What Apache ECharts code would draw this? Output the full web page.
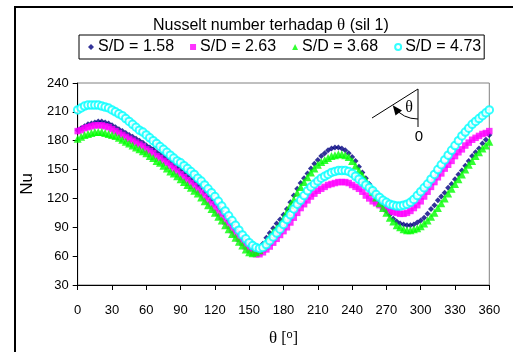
<!DOCTYPE html>
<html><head><meta charset="utf-8">
<script src="https://cdn.jsdelivr.net/npm/echarts@6/dist/echarts.min.js"></script>
<style>html,body{margin:0;padding:0;background:#fff}#c{width:513px;height:352px}</style>
</head><body><div id="c"></div>
<script>
var theta = [0,3,6,9,12,15,18,21,24,27,30,33,36,39,42,45,48,51,54,57,60,63,66,69,72,75,78,81,84,87,90,93,96,99,102,105,108,111,114,117,120,123,126,129,132,135,138,141,144,147,150,153,156,159,162,165,168,171,174,177,180,183,186,189,192,195,198,201,204,207,210,213,216,219,222,225,228,231,234,237,240,243,246,249,252,255,258,261,264,267,270,273,276,279,282,285,288,291,294,297,300,303,306,309,312,315,318,321,324,327,330,333,336,339,342,345,348,351,354,357,360];
var xTicks = [0,30,60,90,120,150,180,210,240,270,300,330,360];
var yTicks = [30,60,90,120,150,180,210,240];
var seriesNames = ['S/D = 1.58','S/D = 2.63','S/D = 3.68','S/D = 4.73'];
var nu158 = [191,193,195,197,198,199,200,200,199,198,
196,194,192,190,188,186,184,182,180,178,
175,173,171,168,166,163,161,158,155,152,
149,146,143,140,137,134,131,127,123,119,
115,111,107,102,97,93,88,84,79,75,
71,67,65,68,73,79,84,89,94,98,
103,109,116,123,130,136,141,146,151,156,
160,164,167,170,172,173,173,172,170,167,
163,159,153,147,141,135,129,123,117,112,
107,103,99,96,94,93,92,92,93,95,
97,100,104,109,113,118,122,126,131,135,
140,145,149,154,159,164,168,172,177,181,
186];
var nu263 = [190,191,193,194,195,196,196,196,195,194,
192,190,188,186,184,182,180,178,176,174,
171,169,167,164,162,159,157,154,151,148,
145,142,139,136,133,129,126,122,118,114,
110,105,101,96,92,87,83,78,74,70,
67,64,62,62,64,67,70,74,78,82,
86,90,95,100,105,110,114,118,122,125,
128,130,132,134,135,136,137,137,137,136,
134,132,130,127,123,120,117,115,113,111,
109,107,106,105,104,104,105,107,110,113,
117,122,127,132,137,142,146,151,155,159,
164,168,171,175,178,181,183,185,187,188,
190];
var nu368 = [182,184,186,187,188,189,189,189,188,187,
186,185,183,181,179,177,175,173,171,169,
167,164,162,159,157,154,151,148,146,143,
140,137,134,131,128,125,121,117,113,109,
105,101,97,92,88,83,79,75,71,67,
64,63,64,66,70,75,80,85,89,93,
99,106,113,119,126,132,137,142,147,151,
155,158,160,162,164,165,166,166,165,163,
159,154,149,144,139,133,127,121,115,110,
105,100,96,92,90,88,87,87,88,89,
91,94,97,101,105,110,115,120,125,130,
135,140,145,150,155,159,164,168,172,175,
179];
var nu473 = [212,214,216,217,217,217,217,216,215,214,
212,210,208,206,203,200,197,194,191,189,
186,183,180,177,174,171,168,165,162,159,
157,154,151,148,145,141,138,134,130,126,
122,117,112,107,102,97,92,87,82,78,
74,71,69,68,69,72,76,80,84,88,
93,98,103,109,114,118,123,128,132,135,
138,141,143,145,147,148,149,149,149,148,
146,143,140,137,134,131,128,124,121,118,
116,114,113,112,112,113,114,116,119,123,
127,131,135,140,145,150,155,160,165,170,
175,180,185,189,193,197,200,203,206,209,
212];

function pairs(v){ return theta.map(function(t,i){ return [t, v[i]]; }); }
var chart = echarts.init(document.getElementById('c'), null, {renderer:'canvas'});
var F = 'Arial, "Liberation Sans", sans-serif';
var SERIF = '"Liberation Serif", "DejaVu Serif", serif';
var cx = 418, cy = 89, r = 30;
function pt(a, rr){ return [cx + rr*Math.cos(a), cy + rr*Math.sin(a)]; }
chart.setOption({
  animation: false,
  backgroundColor: '#fff',
  title: {
    text: 'Nusselt number terhadap {t|θ} (sil 1)',
    left: 148, top: 12,
    textStyle: { fontFamily: F, fontSize: 16, fontWeight: 'normal', color: '#000',
      rich: { t: { fontFamily: SERIF, fontSize: 17, color: '#000' } } }
  },
  legend: {
    left: 79, top: 35,
    padding: [4, 3, 4, 9],
    borderColor: '#000', borderWidth: 1,
    itemWidth: 6, itemHeight: 6, itemGap: 16,
    textStyle: { fontFamily: F, fontSize: 16, color: '#000', padding: [0,0,0,-1] },
    data: seriesNames
  },
  grid: { left: 77.7, right: 23.7, top: 83, bottom: 64.7, show: true, borderColor: '#808080', borderWidth: 1 },
  xAxis: {
    type: 'value', min: xTicks[0], max: xTicks[xTicks.length-1], interval: 30,
    axisLine: { lineStyle: { color: '#000', width: 1 } },
    axisTick: { show: true, inside: false, length: 5, lineStyle: { color: '#000' } },
    splitLine: { show: false },
    axisLabel: { fontFamily: F, fontSize: 13, color: '#000', margin: 19 },
    name: '{t|θ} [{s|o}]', nameLocation: 'middle', nameGap: 44,
    nameTextStyle: { fontFamily: SERIF, fontSize: 16, color: '#000',
      rich: { t: { fontFamily: SERIF, fontSize: 17, color: '#000' },
              s: { fontFamily: F, fontSize: 11, color: '#000', verticalAlign: 'top', padding: [0,0,8,0] } } }
  },
  yAxis: {
    type: 'value', min: yTicks[0], max: yTicks[yTicks.length-1], interval: 30,
    axisLine: { show: true, lineStyle: { color: '#000', width: 1 } },
    axisTick: { show: true, inside: false, length: 5, lineStyle: { color: '#000' } },
    splitLine: { show: false },
    axisLabel: { fontFamily: F, fontSize: 13, color: '#000', margin: 9 },
    name: 'Nu', nameLocation: 'middle', nameGap: 40, nameRotate: 90,
    nameTextStyle: { fontFamily: F, fontSize: 17, color: '#000', padding: [0,0,0,0] }
  },
  series: [
    { name: seriesNames[0], type: 'scatter', data: pairs(nu158), symbol: 'diamond', symbolSize: 6,
      itemStyle: { color: '#000080' } },
    { name: seriesNames[1], type: 'scatter', data: pairs(nu263), symbol: 'rect', symbolSize: 6.5,
      itemStyle: { color: '#FF00FF' } },
    { name: seriesNames[2], type: 'scatter', data: pairs(nu368), symbol: 'triangle', symbolSize: 8,
      itemStyle: { color: '#00FF00' } },
    { name: seriesNames[3], type: 'scatter', data: pairs(nu473), symbol: 'emptyCircle', symbolSize: 7.5,
      itemStyle: { color: '#00FFFF', borderColor: '#00FFFF', borderWidth: 1.3 } }
  ],
  graphic: [
    { type: 'rect', shape: { x: 15, y: 7, width: 600, height: 400 }, style: { fill: 'none', stroke: '#000', lineWidth: 2 }, silent: true },
    { type: 'line', shape: { x1: 372, y1: 118, x2: cx, y2: cy }, style: { stroke: '#000', lineWidth: 1 } },
    { type: 'line', shape: { x1: cx, y1: cy, x2: cx, y2: 127 }, style: { stroke: '#000', lineWidth: 1 } },
    { type: 'arc', shape: { cx: cx, cy: cy, r: r, startAngle: Math.PI/2, endAngle: 2.5, clockwise: true }, style: { stroke: '#000', lineWidth: 1, fill: 'none' } },
    { type: 'polygon', shape: { points: [pt(2.57, r), [402, 110.5], [395.5, 115.5]] }, style: { fill: '#000' } },
    { type: 'text', style: { x: 409, y: 108, text: 'θ', fontFamily: SERIF, fontSize: 16, fill: '#000', align: 'center', verticalAlign: 'middle' } },
    { type: 'text', style: { x: 419, y: 137, text: '0', fontFamily: F, fontSize: 15, fill: '#000', align: 'center', verticalAlign: 'middle' } }
  ]
});
</script>
</body></html>
